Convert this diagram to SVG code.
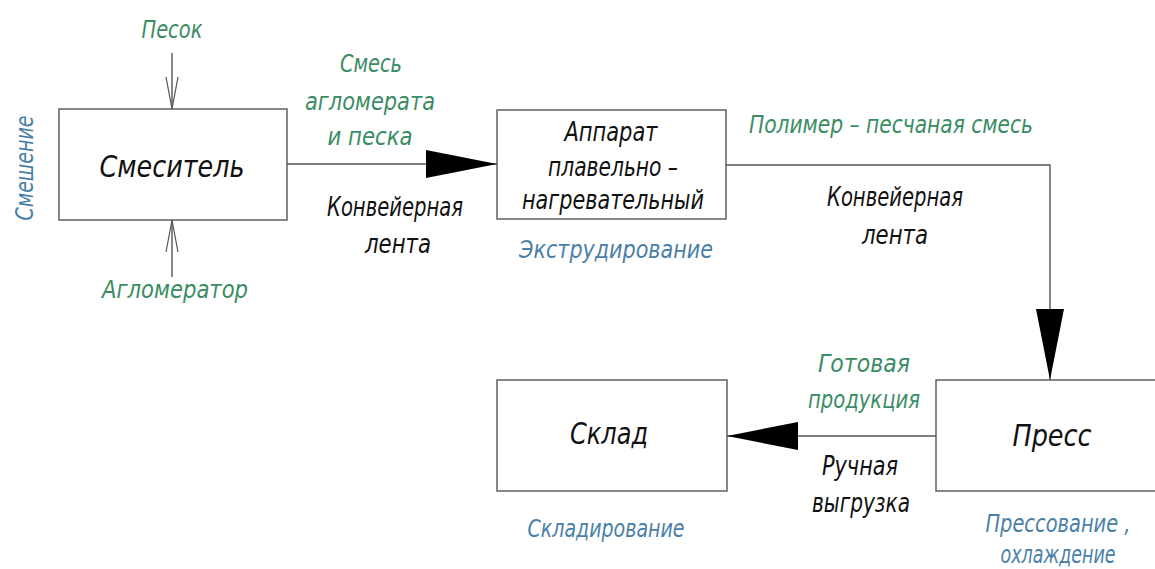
<svg xmlns="http://www.w3.org/2000/svg" width="1155" height="569" viewBox="0 0 1155 569">
<style>
  text{font-family:"DejaVu Sans","Liberation Sans",sans-serif;font-stretch:condensed;font-style:italic;font-weight:normal;text-anchor:middle;}
  .node{fill:#fff;stroke:#555;stroke-width:1.4;}
  .name{font-size:31px;fill:#111;}
  .lab{font-size:26px;fill:#111;}
  .green{font-size:25px;fill:#3a8c62;}
  .blue{font-size:25px;fill:#4a7fa8;}
  .line{fill:none;stroke:#555;stroke-width:1.4;}
</style>
<defs>
  <marker id="fill" markerUnits="userSpaceOnUse" markerWidth="74" markerHeight="30" refX="71" refY="14" orient="auto">
    <path d="M0,0 L71,14 L0,28 Z" fill="#000"/>
  </marker>
  <marker id="open" markerUnits="userSpaceOnUse" markerWidth="34" markerHeight="16" refX="32" refY="7" orient="auto">
    <path d="M0,1 L32,7 L0,13" fill="none" stroke="#555" stroke-width="1.2"/>
  </marker>
</defs>
<rect width="1155" height="569" fill="#fff"/>

<g id="connectors">
  <line class="line" x1="172" y1="53" x2="172" y2="109" marker-end="url(#open)"/>
  <line class="line" x1="172" y1="277" x2="172" y2="220" marker-end="url(#open)"/>
  <line class="line" x1="287" y1="164" x2="497" y2="164" marker-end="url(#fill)"/>
  <path class="line" d="M726,165 H1050 V380" marker-end="url(#fill)"/>
  <line class="line" x1="936" y1="436" x2="727" y2="436" marker-end="url(#fill)"/>
  <text class="green" x="172" y="38" textLength="61" lengthAdjust="spacingAndGlyphs">Песок</text>
  <text class="green" x="175" y="298" textLength="146" lengthAdjust="spacingAndGlyphs">Агломератор</text>
  <text class="green" x="371" y="72" textLength="62" lengthAdjust="spacingAndGlyphs">Смесь</text>
  <text class="green" x="370" y="110" textLength="130" lengthAdjust="spacingAndGlyphs">агломерата</text>
  <text class="green" x="370" y="145" textLength="85" lengthAdjust="spacingAndGlyphs">и песка</text>
  <text class="lab" x="395" y="216" textLength="136" lengthAdjust="spacingAndGlyphs">Конвейерная</text>
  <text class="lab" x="398" y="253" textLength="66" lengthAdjust="spacingAndGlyphs">лента</text>
  <text class="green" x="891" y="133" textLength="284" lengthAdjust="spacingAndGlyphs">Полимер – песчаная смесь</text>
  <text class="lab" x="895" y="206" textLength="136" lengthAdjust="spacingAndGlyphs">Конвейерная</text>
  <text class="lab" x="895" y="244" textLength="66" lengthAdjust="spacingAndGlyphs">лента</text>
  <text class="green" x="864" y="372" textLength="92" lengthAdjust="spacingAndGlyphs">Готовая</text>
  <text class="green" x="864" y="408" textLength="112" lengthAdjust="spacingAndGlyphs">продукция</text>
  <text class="lab" x="860" y="475" textLength="76" lengthAdjust="spacingAndGlyphs">Ручная</text>
  <text class="lab" x="861" y="512" textLength="98" lengthAdjust="spacingAndGlyphs">выгрузка</text>
</g>

<g id="node-mixer">
  <rect class="node" x="59" y="109" width="228" height="111"/>
  <text class="name" x="172" y="177" textLength="145" lengthAdjust="spacingAndGlyphs">Смеситель</text>
  <text class="blue" transform="translate(33,168) rotate(-90)" textLength="105" lengthAdjust="spacingAndGlyphs">Смешение</text>
</g>

<g id="node-extruder">
  <rect class="node" x="497" y="110" width="229" height="109"/>
  <text class="lab" x="611" y="141" textLength="93" lengthAdjust="spacingAndGlyphs">Аппарат</text>
  <text class="lab" x="613" y="176" textLength="130" lengthAdjust="spacingAndGlyphs">плавельно –</text>
  <text class="lab" x="613" y="209" textLength="182" lengthAdjust="spacingAndGlyphs">нагревательный</text>
  <text class="blue" x="616" y="258" textLength="194" lengthAdjust="spacingAndGlyphs">Экструдирование</text>
</g>

<g id="node-press">
  <rect class="node" x="936" y="380" width="230" height="111"/>
  <text class="name" x="1052" y="446" textLength="79" lengthAdjust="spacingAndGlyphs">Пресс</text>
  <text class="blue" x="1058" y="532" textLength="145" lengthAdjust="spacingAndGlyphs">Прессование ,</text>
  <text class="blue" x="1058" y="563" textLength="115" lengthAdjust="spacingAndGlyphs">охлаждение</text>
</g>

<g id="node-store">
  <rect class="node" x="497" y="380" width="230" height="111"/>
  <text class="name" x="609" y="444" textLength="78" lengthAdjust="spacingAndGlyphs">Склад</text>
  <text class="blue" x="606" y="537" textLength="157" lengthAdjust="spacingAndGlyphs">Складирование</text>
</g>
</svg>
